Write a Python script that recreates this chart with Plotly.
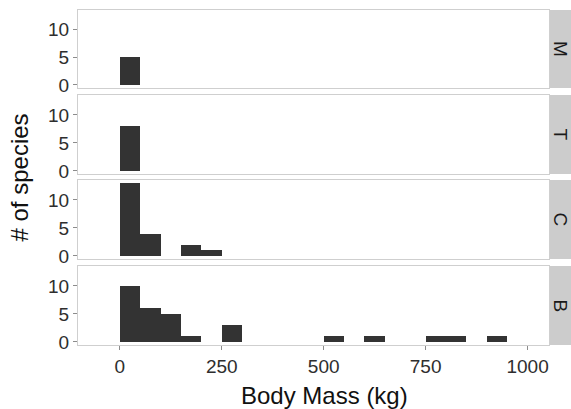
import plotly.graph_objects as go

# Histogram data (bin left edges, counts), bin width 50 kg
panels = ["M", "T", "C", "B"]
m_bins = [0]
m_counts = [5]
t_bins = [0]
t_counts = [8]
c_bins = [0, 50, 150, 200]
c_counts = [13, 4, 2, 1]
b_bins = [0, 50, 100, 150, 250, 500, 600, 750, 800, 900]
b_counts = [10, 6, 5, 1, 3, 1, 1, 1, 1, 1]
bin_width = 50

x_ticks = [0, 250, 500, 750, 1000]
y_ticks = [0, 5, 10]

data = [(m_bins, m_counts), (t_bins, t_counts), (c_bins, c_counts), (b_bins, b_counts)]

W, H = 571, 409
ml, mr, mt, mb = 78, 0, 10, 64
pw = W - ml - mr
ph = H - mt - mb
panel_right_px = 549
xdom_end = (panel_right_px - ml) / pw

# panel pixel extents (top, bottom) from top of figure
px_ext = [(10, 88), (95, 174), (180, 259), (266, 345)]
ydoms = [((H - mb - b) / ph, (H - mb - t) / ph) for t, b in px_ext]

fig = go.Figure()
font = "Liberation Sans, Arial, sans-serif"
border = "#cfcfcf"
tick_size = 19
title_size = 24

for i, (bins, counts) in enumerate(data):
    n = i + 1
    xa = "x" if n == 1 else f"x{n}"
    ya = "y" if n == 1 else f"y{n}"
    fig.add_trace(go.Bar(
        x=bins, y=counts, width=bin_width, offset=0,
        marker=dict(color="#333333", line=dict(width=0)),
        xaxis=xa, yaxis=ya, showlegend=False, hoverinfo="skip",
    ))
    xkey = "xaxis" if n == 1 else f"xaxis{n}"
    ykey = "yaxis" if n == 1 else f"yaxis{n}"
    is_bottom = (n == 4)
    fig.layout[xkey] = dict(
        domain=[0, xdom_end], anchor=ya, range=[-102.5, 1052.5],
        tickvals=x_ticks, ticktext=[str(v) for v in x_ticks],
        showticklabels=is_bottom, ticks="outside" if is_bottom else "",
        ticklen=4, tickcolor="#8c8c8c", tickwidth=1,
        showgrid=False, zeroline=False,
        showline=True, linecolor=border, linewidth=1, mirror=True,
        tickfont=dict(family=font, size=tick_size, color="#2e2e2e"),
        automargin=False,
        matches=None if n == 1 else "x",
        fixedrange=True,
    )
    fig.layout[ykey] = dict(
        domain=list(ydoms[i]), anchor=xa, range=[-0.55, 13.55],
        tickvals=y_ticks, ticks="outside", ticklen=4, tickcolor="#8c8c8c",
        showgrid=False, zeroline=False,
        showline=True, linecolor=border, linewidth=1, mirror=True,
        tickfont=dict(family=font, size=tick_size, color="#2e2e2e"),
        automargin=False,
        fixedrange=True,
    )
    # strip
    fig.add_shape(type="rect", xref="paper", yref="paper",
                  x0=xdom_end, x1=1.0, y0=ydoms[i][0], y1=ydoms[i][1],
                  fillcolor="#cccccc", line=dict(width=0), layer="below")
    fig.add_annotation(xref="paper", yref="paper",
                       x=(xdom_end + 1.0) / 2, y=(ydoms[i][0] + ydoms[i][1]) / 2,
                       text=panels[i], textangle=90, showarrow=False,
                       font=dict(family=font, size=tick_size, color="#1a1a1a"),
                       xanchor="center", yanchor="middle")

# axis titles
fig.add_annotation(xref="paper", yref="paper", x=-59 / pw, y=0.5,
                   text="# of species", textangle=-90, showarrow=False,
                   font=dict(family=font, size=title_size, color="#111"),
                   xanchor="center", yanchor="middle")
fig.add_annotation(xref="paper", yref="paper",
                   x=((120 + 529) / 2 - ml) / pw, y=-(396 - (H - mb)) / ph,
                   text="Body Mass (kg)", showarrow=False,
                   font=dict(family=font, size=title_size, color="#111"),
                   xanchor="center", yanchor="middle")

fig.update_layout(
    width=W, height=H,
    margin=dict(l=ml, r=mr, t=mt, b=mb, autoexpand=False),
    paper_bgcolor="white", plot_bgcolor="white",
    bargap=0,
)

fig.write_html("out.html", config={"displayModeBar": False},
               post_script="document.body.style.margin='0';document.body.style.overflow='hidden';")
